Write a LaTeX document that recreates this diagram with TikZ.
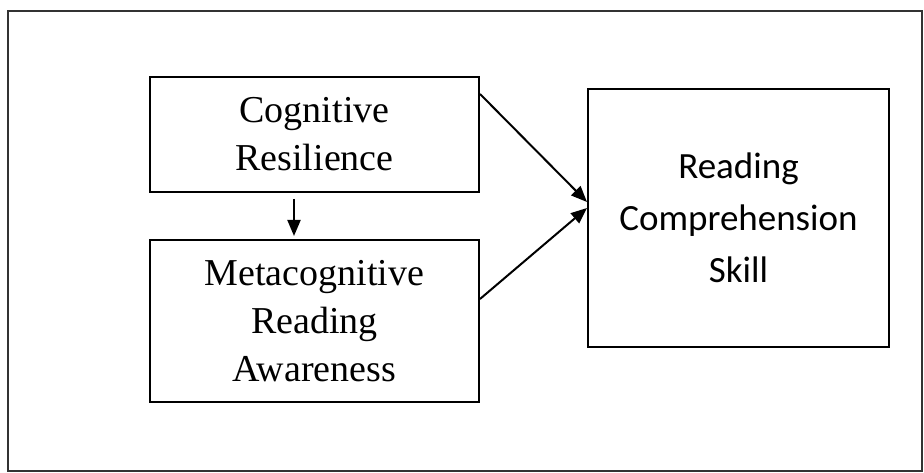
\documentclass[tikz,border=0pt]{standalone}
\usepackage{fontspec}
\setmainfont{Liberation Serif}
\newfontfamily\calib{Carlito}
\usetikzlibrary{arrows.meta}
\begin{document}
\begin{tikzpicture}[x=1pt,y=1pt,
  serifbox/.style={draw=black,line width=2pt,minimum width=329pt,align=center,inner sep=0pt,
    font=\fontsize{38}{48}\selectfont},
  calibox/.style={draw=black,line width=2pt,minimum width=301pt,minimum height=258pt,align=center,inner sep=0pt,
    font=\calib\fontsize{37}{52}\selectfont},
  conn/.style={line width=2pt,-{Triangle[length=16pt,width=13pt]}}]
\useasboundingbox (0,0) rectangle (924,473);
\draw[line width=2pt,black!80] (8,462) rectangle (922,1.5);
\node[serifbox,minimum height=115pt] (b1) at (314.5,338.5) {Cognitive\\Resilience};
\node[serifbox,minimum height=162pt] (b2) at (314.5,152) {Metacognitive\\Reading\\Awareness};
\node[calibox] (b3) at (738.5,255) {Reading\\Comprehension\\Skill};
\coordinate (s1) at ([yshift=-18pt]b1.north east);
\coordinate (s2) at ([yshift=-60pt]b2.north east);
\coordinate (t1) at ([yshift=16pt]b3.west);
\coordinate (t2) at ([yshift=10pt]b3.west);
\coordinate (va) at ([xshift=-20.5pt,yshift=-6pt]b1.south);
\coordinate (vb) at ([xshift=-20.5pt,yshift=3pt]b2.north);
\draw[conn] (s1) -- (t1);
\draw[conn] (s2) -- (t2);
\draw[conn] (va) -- (vb);
\end{tikzpicture}
\end{document}
